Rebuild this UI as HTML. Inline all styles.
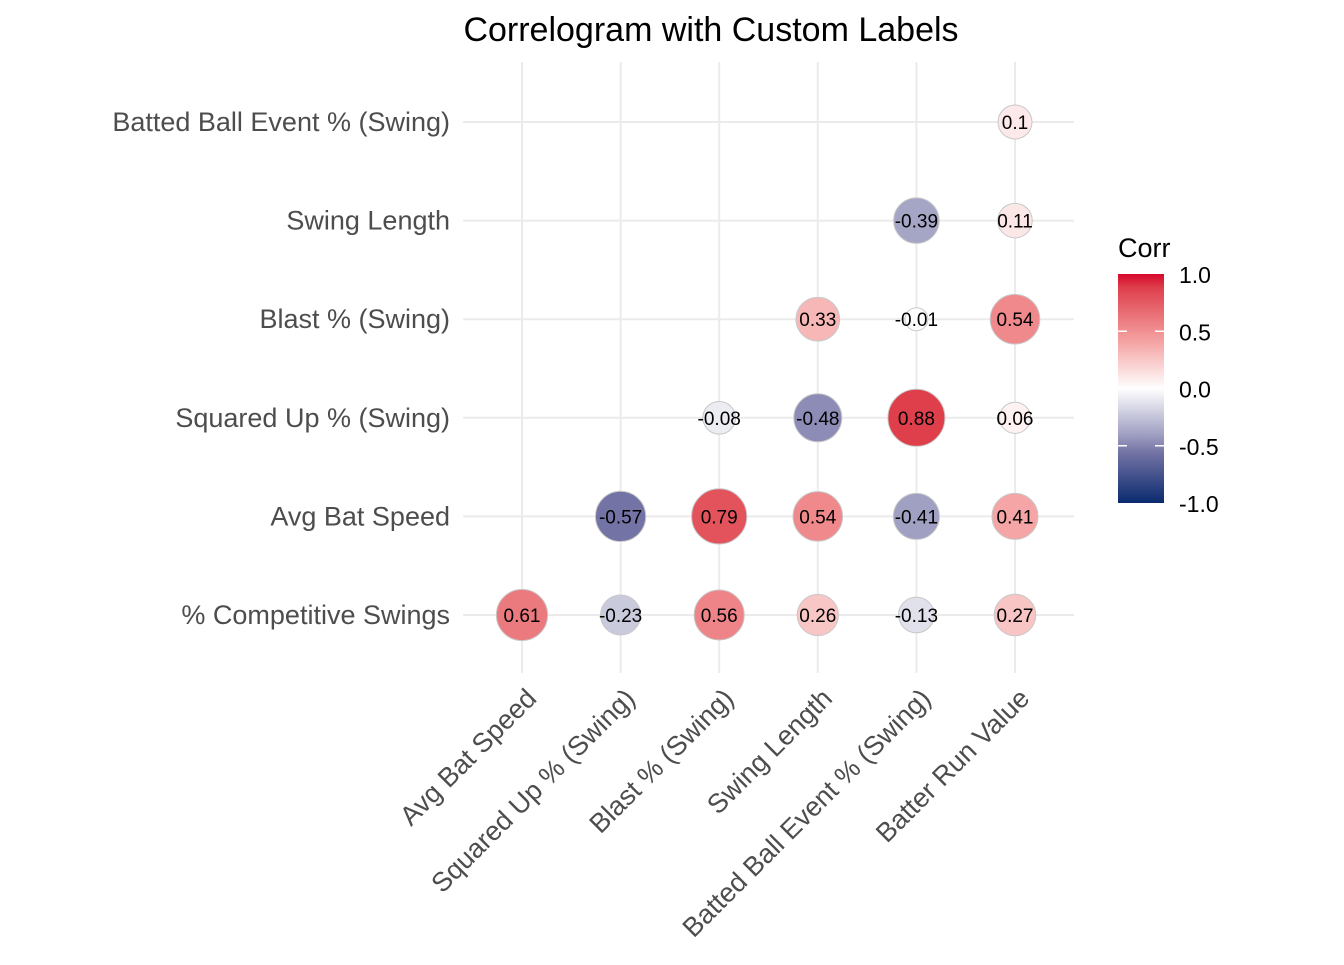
<!DOCTYPE html>
<html><head><meta charset="utf-8"><style>
body{margin:0;background:#fff;}
svg{font-family:"Liberation Sans",Arial,sans-serif;}
</style></head><body>
<svg id="chart" width="1344" height="960" viewBox="0 0 1344 960">
<rect width="1344" height="960" fill="#fff"/>
<text x="711" y="41" text-anchor="middle" font-size="34" fill="#000">Correlogram with Custom Labels</text>
<g id="grid"></g><g id="marks"></g><g id="ylabels"></g><g id="xlabels"></g>
<defs><linearGradient id="lg" x1="0" y1="1" x2="0" y2="0">
<stop offset="0" stop-color="#0a2a6e"/><stop offset="0.22" stop-color="#7373a5"/><stop offset="0.3" stop-color="#a0a0c3"/><stop offset="0.5" stop-color="#ffffff"/><stop offset="0.7" stop-color="#f5a5a5"/><stop offset="0.94" stop-color="#de3f4b"/><stop offset="1" stop-color="#d6082c"/></linearGradient></defs>
<g>
<text x="1118" y="257" font-size="27" fill="#000">Corr</text>
<rect x="1118" y="274" width="46" height="229" fill="url(#lg)"/>
<g id="legticks"></g>
</g>
</svg>
<script>
const xCats=["Avg Bat Speed","Squared Up % (Swing)","Blast % (Swing)","Swing Length","Batted Ball Event % (Swing)","Batter Run Value"];
const yCats=["% Competitive Swings","Avg Bat Speed","Squared Up % (Swing)","Blast % (Swing)","Swing Length","Batted Ball Event % (Swing)"];
const rowIdx=[0,0,0,0,0,0, 1,1,1,1,1, 2,2,2,2, 3,3,3, 4,4, 5];
const colIdx=[0,1,2,3,4,5, 1,2,3,4,5, 2,3,4,5, 3,4,5, 4,5, 5];
const corrVals=[0.61,-0.23,0.56,0.26,-0.13,0.27, -0.57,0.79,0.54,-0.41,0.41, -0.08,-0.48,0.88,0.06, 0.33,-0.01,0.54, -0.39,0.11, 0.1];
const legendTicks=[1.0,0.5,0.0,-0.5,-1.0];

const NS="http://www.w3.org/2000/svg";
const xPos=i=>522+i*98.6;
const yPos=j=>615-j*98.6;
const legY=v=>388.5-v*114.5;
function mk(tag,attrs,parent){const e=document.createElementNS(NS,tag);for(const k in attrs)e.setAttribute(k,attrs[k]);parent.appendChild(e);return e;}
const redStops=[[0,[255,255,255]],[0.41,[245,165,165]],[0.88,[222,63,75]],[1,[214,8,44]]];
const blueStops=[[0,[255,255,255]],[0.41,[160,160,195]],[0.57,[115,115,165]],[1,[10,40,110]]];
function color(v){
  const a=Math.min(1,Math.abs(v));const st=v>=0?redStops:blueStops;
  for(let i=1;i<st.length;i++){if(a<=st[i][0]){const t=(a-st[i-1][0])/(st[i][0]-st[i-1][0]);
    const c=st[i].map?st[i][1].map((e,k)=>Math.round(st[i-1][1][k]+(e-st[i-1][1][k])*t)):0;
    return `rgb(${c[0]},${c[1]},${c[2]})`;}}
  return 'rgb(214,8,44)';
}
const absVals=corrVals.map(Math.abs);
const aMin=Math.min(...absVals),aMax=Math.max(...absVals);
function rad(v){const t=(Math.abs(v)-aMin)/(aMax-aMin);return 11.5+Math.sqrt(t)*(28.5-11.5);}
const grid=document.getElementById('grid');
xCats.forEach((c,i)=>{
  const l=mk('line',{x1:xPos(i),x2:xPos(i),y1:62,y2:673,stroke:'#ebebeb','stroke-width':2},grid);
  
  
});
yCats.forEach((c,j)=>{
  const l=mk('line',{x1:463,x2:1074,y1:yPos(j),y2:yPos(j),stroke:'#ebebeb','stroke-width':2},grid);
  
  
});
const yl=document.getElementById('ylabels');
yCats.forEach((c,j)=>{
  const t=mk('text',{x:450,y:yPos(j)+9,'text-anchor':'end','font-size':27,fill:'#4d4d4d'},yl);
  t.textContent=c;
  
  
});
const xl=document.getElementById('xlabels');
xCats.forEach((c,i)=>{
  const x=xPos(i)+16,y=700;
  const t=mk('text',{x:x,y:y,'text-anchor':'end','font-size':27,fill:'#4d4d4d',transform:`rotate(-45 ${x} ${y})`},xl);
  t.textContent=c;
  
  
});
const marks=document.getElementById('marks');
corrVals.forEach((v,k)=>{
  const cx=xPos(colIdx[k]),cy=yPos(rowIdx[k]);
  const c=mk('circle',{cx:cx,cy:cy,r:rad(v),fill:color(v),stroke:'#c8c8c8','stroke-width':1},marks);
  
  
  const t=mk('text',{x:cx,y:cy+7,'text-anchor':'middle','font-size':19,fill:'#000'},marks);
  t.textContent=String(v);
  
  
});
const lt=document.getElementById('legticks');
legendTicks.forEach(v=>{
  const y=legY(v);
  if(Math.abs(v)<1){
    mk('line',{x1:1118,x2:1127,y1:y,y2:y,stroke:'#fff','stroke-width':1.5},lt);
    mk('line',{x1:1155,x2:1164,y1:y,y2:y,stroke:'#fff','stroke-width':1.5},lt);
  }
  const t=mk('text',{x:1179,y:y+9,'font-size':23,fill:'#000'},lt);
  t.textContent=v.toFixed(1);
  
  
});
</script>
</body></html>
